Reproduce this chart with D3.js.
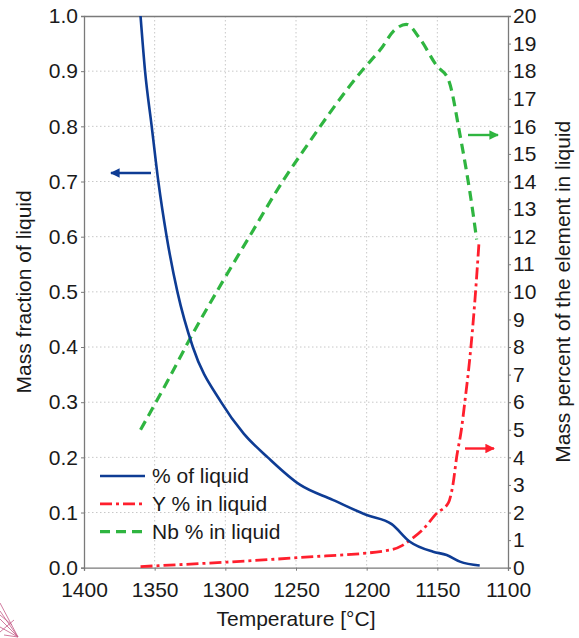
<!DOCTYPE html>
<html>
<head>
<meta charset="utf-8">
<script src="https://cdn.jsdelivr.net/npm/d3@7/dist/d3.min.js"></script>
<style>
  html, body { margin: 0; padding: 0; background: #fff; }
  svg { display: block; }
  text { font-family: "Liberation Sans", Arial, sans-serif; fill: #1a1a1a; }
</style>
</head>
<body>
<svg id="chart" width="579" height="638"></svg>
<script>
// Temperatures (°C) and values for each series
const liquidTemp = [1360, 1356.8, 1352.1, 1347.4, 1341.5, 1333.9, 1323, 1303, 1287, 1270, 1247, 1224, 1200, 1182.3, 1169.4, 1153, 1143.4, 1134, 1120];
const liquidFrac = [1.0, 0.9, 0.8, 0.7, 0.6, 0.5, 0.4, 0.3, 0.243, 0.2, 0.15, 0.123, 0.0955, 0.079, 0.047, 0.029, 0.023, 0.011, 0.004];

const yTemp = [1360, 1300, 1247, 1183.5, 1175, 1169.4, 1160, 1150.5, 1142.2, 1139, 1136.3, 1133, 1130.4, 1127, 1123.4, 1120.5];
const yPct  = [0.04, 0.2, 0.37, 0.64, 0.8, 1.0, 1.4, 1.97, 2.35, 3.0, 4.02, 5.0, 6.07, 7.6, 9.7, 11.8];

const nbTemp = [1360, 1340, 1325, 1301, 1283, 1259, 1245, 1202, 1190, 1181, 1172, 1162, 1150.5, 1142.2, 1134, 1124.6, 1122.2];
const nbPct  = [5.0, 6.85, 8.3, 10.45, 12.0, 14.04, 15.1, 18.1, 18.8, 19.45, 19.7, 19.15, 18.2, 17.7, 15.7, 12.8, 11.9];

const xTicks = [1400, 1350, 1300, 1250, 1200, 1150, 1100];
const leftTicks = [0, 0.1, 0.2, 0.3, 0.4, 0.5, 0.6, 0.7, 0.8, 0.9, 1.0];
const rightTicks = d3.range(0, 21, 1);

const seriesNames = ["% of liquid", "Y % in liquid", "Nb % in liquid"];
const seriesColors = ["#0e3c94", "#ff1f2d", "#2fb540"];

const svg = d3.select("#chart");
const L = 84, R = 508, T = 16, B = 567.7;
const FS = 21;

const x = d3.scaleLinear().domain([1400, 1100]).range([L, R]);
const yL = d3.scaleLinear().domain([0, 1]).range([B, T]);
const yR = d3.scaleLinear().domain([0, 20]).range([B, T]);

// dotted grid
const grid = svg.append("g").attr("stroke", "#c8c8c8").attr("stroke-width", 1).attr("stroke-dasharray", "1.5,2.5");
grid.selectAll("line.v").data(xTicks.slice(1, -1)).join("line")
  .attr("x1", d => x(d)).attr("x2", d => x(d)).attr("y1", T).attr("y2", B);
grid.selectAll("line.h").data(leftTicks.slice(1, -1)).join("line")
  .attr("x1", L).attr("x2", R).attr("y1", d => yL(d)).attr("y2", d => yL(d));

// axes
const fmt1 = d3.format(".1f");
const axB = svg.append("g").attr("transform", `translate(0,${B})`)
  .call(d3.axisBottom(x).tickValues(xTicks).tickSize(3).tickPadding(11).tickFormat(d3.format("d")));
const axL = svg.append("g").attr("transform", `translate(${L},0)`)
  .call(d3.axisLeft(yL).tickValues(leftTicks).tickSize(3).tickPadding(3).tickFormat(fmt1));
const axR = svg.append("g").attr("transform", `translate(${R},0)`)
  .call(d3.axisRight(yR).tickValues(rightTicks).tickSize(3).tickPadding(2).tickFormat(d3.format("d")));
const axT = svg.append("g").attr("transform", `translate(0,${T})`)
  .call(d3.axisTop(x).tickValues([]).tickSize(0));
[axB, axL, axR, axT].forEach(a => {
  a.selectAll("path.domain").attr("stroke", "#7a7a7a").attr("stroke-width", 1.3);
  a.selectAll(".tick line").attr("stroke", "#7a7a7a");
  a.selectAll("text").attr("font-size", FS).attr("fill", "#1a1a1a")
    .attr("font-family", "'Liberation Sans', Arial, sans-serif");
});

// axis titles
svg.append("text").attr("x", x(1250)).attr("y", 626).attr("text-anchor", "middle")
  .attr("font-size", FS).text("Temperature [°C]");
svg.append("text").attr("transform", `translate(31,${(T + B) / 2}) rotate(-90)`)
  .attr("text-anchor", "middle").attr("font-size", FS).text("Mass fraction of liquid");
svg.append("text").attr("transform", `translate(570,${(T + B) / 2}) rotate(-90)`)
  .attr("text-anchor", "middle").attr("font-size", FS).text("Mass percent of the element in liquid");

// curves
const line = (ys, scale, temps) => d3.line()
  .x((d, i) => x(temps[i])).y(d => scale(d)).curve(d3.curveMonotoneX)(ys);

svg.append("path").attr("d", line(nbPct, yR, nbTemp)).attr("fill", "none")
  .attr("stroke", seriesColors[2]).attr("stroke-width", 3.2).attr("stroke-dasharray", "10,6");
svg.append("path").attr("d", line(yPct, yR, yTemp)).attr("fill", "none")
  .attr("stroke", seriesColors[1]).attr("stroke-width", 2.8).attr("stroke-dasharray", "12,4,3,4");
svg.append("path").attr("d", line(liquidFrac, yL, liquidTemp)).attr("fill", "none")
  .attr("stroke", seriesColors[0]).attr("stroke-width", 2.6);

// arrows pointing to the axis each curve uses
const defs = svg.append("defs");
seriesColors.forEach((c, i) => {
  defs.append("marker").attr("id", "ah" + i).attr("viewBox", "0 0 10 10")
    .attr("refX", 9).attr("refY", 5).attr("markerWidth", 4).attr("markerHeight", 4)
    .attr("markerUnits", "strokeWidth").attr("orient", "auto")
    .append("path").attr("d", "M0,0L10,5L0,10Z").attr("fill", c);
});
const arrows = [
  { i: 0, x1: 151, x2: 111, y: 173 },
  { i: 2, x1: 468, x2: 498, y: 135 },
  { i: 1, x1: 465, x2: 494, y: 448.5 }
];
svg.selectAll("line.arrow").data(arrows).join("line").attr("class", "arrow")
  .attr("x1", d => d.x1).attr("x2", d => d.x2).attr("y1", d => d.y).attr("y2", d => d.y)
  .attr("stroke", d => seriesColors[d.i]).attr("stroke-width", 2.4)
  .attr("marker-end", d => `url(#ah${d.i})`);

// legend
const dashes = [null, "12,4,3,4", "10,6"];
const widths = [2.6, 2.8, 3.2];
const lg = svg.append("g");
seriesNames.forEach((name, i) => {
  const yy = 476 + i * 27.8;
  lg.append("line").attr("x1", 100).attr("x2", 145).attr("y1", yy).attr("y2", yy)
    .attr("stroke", seriesColors[i]).attr("stroke-width", widths[i])
    .attr("stroke-dasharray", dashes[i]);
  lg.append("text").attr("x", 152).attr("y", yy + 7).attr("font-size", FS).text(name);
});

// corner emblem fragment
const em = svg.append("g").attr("stroke", "#b8336a").attr("stroke-width", 0.8).attr("opacity", 0.8);
[[0, 603], [0, 611], [0, 619], [0, 627], [4, 635]].forEach(p => {
  em.append("line").attr("x1", p[0]).attr("y1", p[1]).attr("x2", 18).attr("y2", 637);
});
em.append("line").attr("x1", 0).attr("y1", 615).attr("x2", 12).attr("y2", 625);
em.append("line").attr("x1", 0).attr("y1", 632).attr("x2", 14).attr("y2", 620);
</script>
</body>
</html>
